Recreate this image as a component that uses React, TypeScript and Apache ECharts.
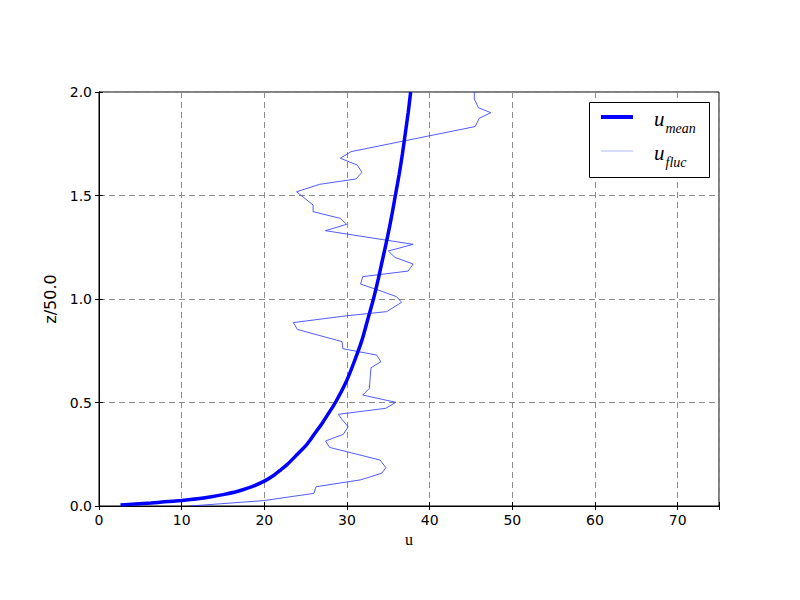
import React, { useEffect, useRef } from "react";
import * as echarts from "echarts";

// mean profile: [u, z/50]
const meanU = [2.6, 4.4, 6.3, 7.9, 10.0, 11.9, 13.6, 15.0, 16.7, 17.9, 18.9, 20.0, 21.2, 22.0, 22.75, 24.0, 25.2, 26.1, 27.0, 27.8, 28.6, 29.9, 30.9, 31.8, 32.5, 33.2, 33.8, 34.35, 34.9, 35.4, 35.85, 36.3, 36.7, 37.05, 37.4, 37.7];
const meanZ = [0.005, 0.01, 0.015, 0.02, 0.027, 0.035, 0.045, 0.055, 0.07, 0.085, 0.1, 0.12, 0.15, 0.175, 0.2, 0.25, 0.3, 0.35, 0.4, 0.45, 0.5, 0.6, 0.7, 0.8, 0.9, 1.0, 1.1, 1.2, 1.3, 1.4, 1.5, 1.6, 1.7, 1.8, 1.9, 2.0];

// fluctuating profile: [u, z/50]
const flucU = [45.4, 45.4, 45.9, 47.4, 46.0, 45.5, 30.5, 29.2, 31.25, 31.8, 31.1, 26.7, 23.9, 25.9, 25.9, 29.15, 29.96, 27.4, 38.0, 35.0, 35.8, 38.0, 37.4, 31.9, 31.65, 33.8, 36.0, 36.6, 34.8, 29.96, 23.5, 24.0, 29.4, 29.5, 33.6, 34.1, 32.9, 32.7, 31.9, 35.9, 34.7, 28.95, 29.35, 30.15, 29.55, 27.4, 27.9, 34.0, 34.7, 34.2, 31.6, 26.25, 26.0, 19.9, 11.0];
const flucZ = [2.0, 1.966, 1.924, 1.9, 1.873, 1.833, 1.712, 1.68, 1.647, 1.612, 1.58, 1.554, 1.518, 1.454, 1.422, 1.39, 1.361, 1.33, 1.264, 1.232, 1.201, 1.169, 1.135, 1.108, 1.072, 1.043, 1.011, 0.984, 0.939, 0.919, 0.886, 0.853, 0.794, 0.76, 0.729, 0.697, 0.668, 0.568, 0.536, 0.501, 0.472, 0.443, 0.42, 0.383, 0.346, 0.314, 0.283, 0.222, 0.185, 0.158, 0.126, 0.093, 0.061, 0.026, 0.0];

const xTicks = [0, 10, 20, 30, 40, 50, 60, 70];
const yTicks = ["0.0", "0.5", "1.0", "1.5", "2.0"];

const tickFont = { fontFamily: "DejaVu Sans", fontSize: 14, color: "#000" };
const gridLine = { show: true, lineStyle: { color: "#8c8c8c", type: [6, 4] as any, width: 1 } };

export default function App() {
  const ref = useRef<HTMLDivElement>(null);
  useEffect(() => {
    const chart = echarts.init(ref.current!, null, { renderer: "svg" });
    const meanData = meanU.map((u, i) => [u, meanZ[i]]);
    const flucData = flucU.map((u, i) => [u, flucZ[i]]);
    const rich = {
      u: { fontFamily: "Liberation Serif", fontStyle: "italic", fontSize: 21, color: "#000", lineHeight: 24, verticalAlign: "bottom" },
      s: { fontFamily: "Liberation Serif", fontStyle: "italic", fontSize: 14, color: "#000", lineHeight: 14, verticalAlign: "bottom", padding: [0, 0, -6, 1] },
    };
    chart.setOption({
      animation: false,
      backgroundColor: "#fff",
      grid: { left: 99, top: 92, right: 81, bottom: 94, show: true, borderColor: "#000", borderWidth: 1 },
      xAxis: [
        {
          type: "value", min: 0, max: 75, interval: 10,
          name: "u", nameLocation: "middle", nameGap: 21,
          nameTextStyle: { fontFamily: "Liberation Serif", fontSize: 16, color: "#000" },
          axisLine: { show: true, onZero: false, lineStyle: { color: "#000", width: 1 } },
          axisTick: { show: true, inside: true, length: 4, lineStyle: { color: "#000" } },
          axisLabel: { ...tickFont, margin: 7, formatter: (v: number) => (xTicks.includes(v) ? String(v) : "") },
          splitLine: gridLine,
        },
        {
          type: "value", min: 0, max: 75, interval: 10, position: "top",
          axisLine: { show: true, lineStyle: { color: "#000" } },
          axisTick: { show: true, inside: true, length: 4, lineStyle: { color: "#000" } },
          axisLabel: { show: false }, splitLine: { show: false },
        },
      ],
      yAxis: [
        {
          type: "value", min: 0, max: 2, interval: 0.5,
          name: "z/50.0", nameLocation: "middle", nameGap: 41, nameRotate: 90,
          nameTextStyle: { fontFamily: "DejaVu Sans", fontSize: 16, color: "#000" },
          axisLine: { show: true, onZero: false, lineStyle: { color: "#000", width: 1 } },
          axisTick: { show: true, inside: true, length: 4, lineStyle: { color: "#000" } },
          axisLabel: { ...tickFont, margin: 7, formatter: (v: number) => yTicks[Math.round(v * 2)] ?? "" },
          splitLine: gridLine,
        },
        {
          type: "value", min: 0, max: 2, interval: 0.5, position: "right",
          axisLine: { show: true, lineStyle: { color: "#000" } },
          axisTick: { show: true, inside: true, length: 4, lineStyle: { color: "#000" } },
          axisLabel: { show: false }, splitLine: { show: false },
        },
      ],
      legend: {
        orient: "vertical", left: 601, top: 108, itemWidth: 32, itemHeight: 4, itemGap: 7,
        padding: 0, z: 20,
        data: [
          { name: "mean", icon: "rect", itemStyle: { color: "#0000ff" } },
          { name: "fluc", icon: "path://M0,0 L10,0 L10,0.12 L0,0.12 Z", itemStyle: { color: "#3344ff" } },
        ],
        formatter: (n: string) => `{u|u}{s|${n}}`,
        textStyle: { rich, padding: [0, 0, 0, 16] },
      },
      graphic: [
        { type: "rect", shape: { x: 589.5, y: 102.5, width: 120, height: 75 }, style: { fill: "#fff", stroke: "#000", lineWidth: 1 }, z: 4 },
      ],
      series: [
        {
          name: "fluc", type: "line", data: flucData, symbol: "none", smooth: false,
          lineStyle: { color: "#2233ff", width: 0.8 }, itemStyle: { color: "#3344ff" }, z: 2,
        },
        {
          name: "mean", type: "line", data: meanData, symbol: "none", smooth: 0.3,
          lineStyle: { color: "#0000ff", width: 3.5 }, itemStyle: { color: "#0000ff" }, z: 3,
        },
      ],
    });
    return () => chart.dispose();
  }, []);
  return <div ref={ref} style={{ width: 800, height: 600, margin: -8 }} />;
}
